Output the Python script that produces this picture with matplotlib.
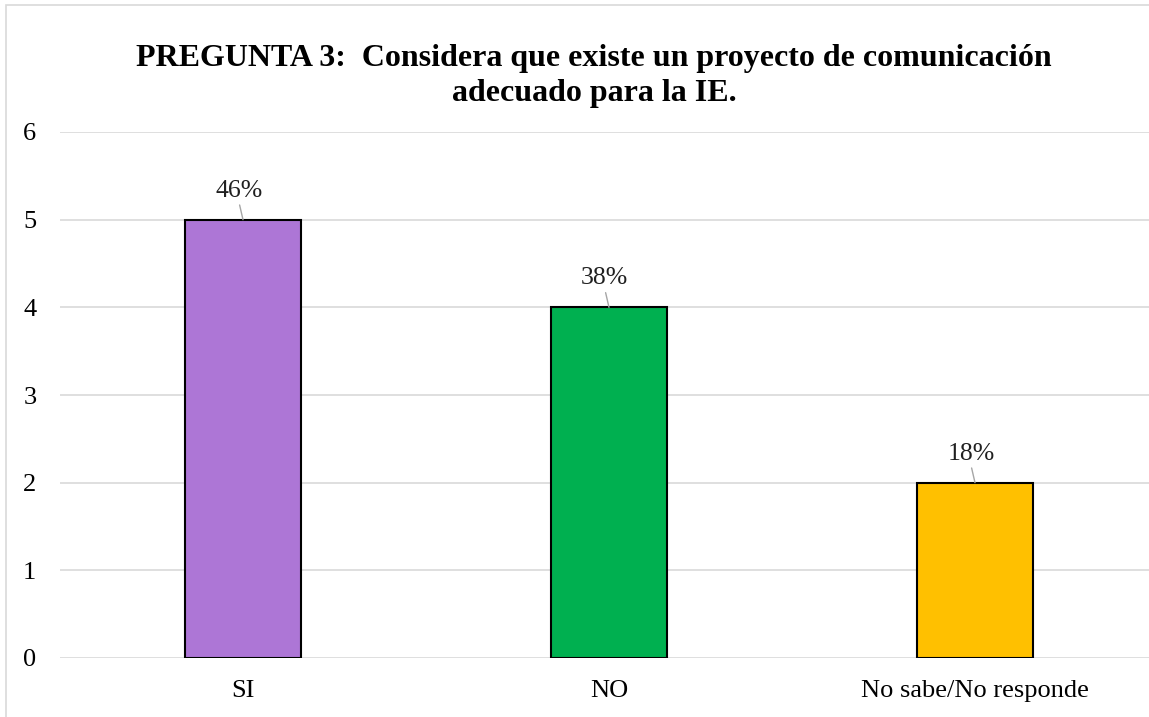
import numpy as np
import matplotlib
matplotlib.use('Agg')
import matplotlib.pyplot as plt
from matplotlib.patches import Rectangle

categories = ['SI', 'NO', 'No sabe/No responde']
counts     = [5, 4, 2]
pctLabels  = ['46%', '38%', '18%']
colors     = ['#AD76D6', '#00B050', '#FFC000']
title      = 'PREGUNTA 3:  Considera que existe un proyecto de comunicación\nadecuado para la IE.'

plt.rcParams['font.family'] = ['Liberation Serif', 'DejaVu Serif']

fig = plt.figure(figsize=(11.49, 7.17), dpi=100)
ax  = fig.add_axes([60/1149, 59/717, 1098/1149, 526/717])

x = np.arange(len(categories))
ax.bar(x, counts, width=0.315, color=colors, edgecolor='black', linewidth=1.5, zorder=3)

# data labels with small leader lines
for xi, c, lab in zip(x, counts, pctLabels):
    ax.annotate(lab, xy=(xi, c), xytext=(-3, 13), textcoords='offset points',
                ha='center', va='bottom', fontsize=18.5, color='#202020',
                arrowprops=dict(arrowstyle='-', color='#A6A6A6', lw=1,
                                patchA=None, relpos=(0.5, 0),
                                shrinkA=2.5, shrinkB=0))

ax.set_xlim(-0.5, 2.5)
ax.set_ylim(0, 6)
ax.set_yticks(range(0, 7))
ax.set_xticks(x)
ax.set_xticklabels(categories)
ax.tick_params(axis='both', length=0, labelsize=19, colors='black')
ax.tick_params(axis='y', pad=17)
ax.tick_params(axis='x', pad=16)
ax.grid(axis='y', color='#D9D9D9', linewidth=1.2, zorder=0)
for s in ax.spines.values():
    s.set_visible(False)

fig.text(594/1149, 1 - 76/717, title, ha='center', va='center',
         fontsize=23, fontweight='bold', linespacing=1.25)

# chart border (left and top edges visible)
fig.patches.append(Rectangle((6/1149, -0.1), 1.2, 1 - 5/717 + 0.1,
                             transform=fig.transFigure, fill=False,
                             edgecolor='#D9D9D9', linewidth=1.2))

fig.savefig('out.png', dpi=100)
